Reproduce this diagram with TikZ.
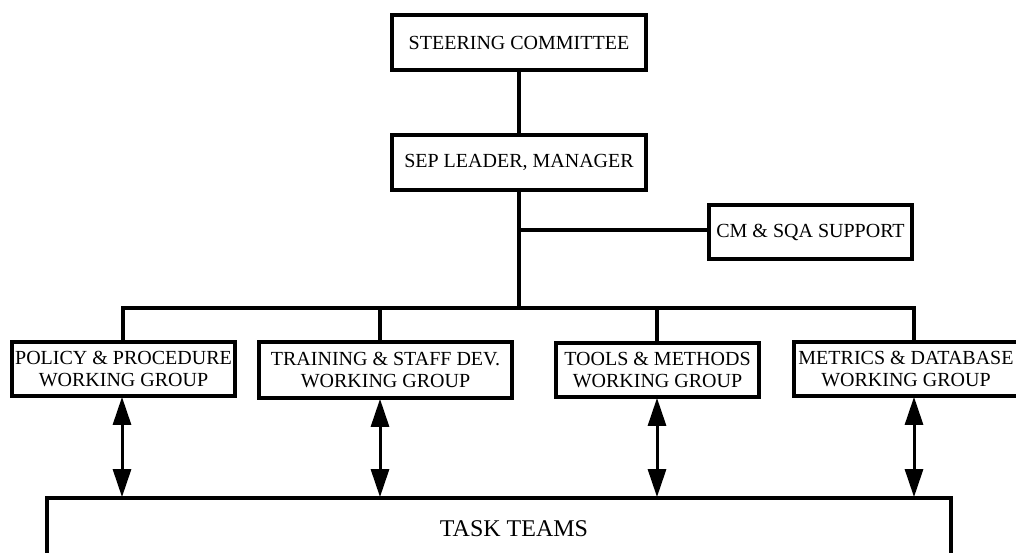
\documentclass[tikz,border=0pt]{standalone}
\usepackage{fontspec}
\setmainfont{Liberation Serif}
\usetikzlibrary{arrows.meta}
\tikzset{
  box/.style={draw, line width=3.8pt, rectangle, inner sep=0pt, align=center,
              font=\fontsize{20}{22}\selectfont},
  link/.style={line width=3.8pt},
  twoway/.style={line width=3pt, {Triangle[length=28pt,width=18pt]}-{Triangle[length=28pt,width=18pt]}, shorten <=-1pt, shorten >=-1pt},
}
\begin{document}
\begin{tikzpicture}[x=1pt,y=-1pt]
  \useasboundingbox (0,0) rectangle (1016,553);
  \clip (0,0) rectangle (1016,553);

  % top of the hierarchy
  \node[box, minimum width=254pt, minimum height=55pt] (steer) at (519,42.5) {STEERING COMMITTEE};
  \node[box, minimum width=254pt, minimum height=55pt] (sep) at (519,162.5) {SEP LEADER, MANAGER};
  \node[box, minimum width=203pt, minimum height=54pt] (cm) at (810.5,232) {CM \& SQA SUPPORT};

  % working groups
  \node[box, minimum width=223pt, minimum height=54pt] (policy) at (123.5,369) {POLICY \& PROCEDURE\\WORKING GROUP};
  \node[box, minimum width=253pt, minimum height=56pt] (training) at (385.5,370) {TRAINING \& STAFF DEV.\\WORKING GROUP};
  \node[box, minimum width=203pt, minimum height=54pt] (tools) at (657.5,370) {TOOLS \& METHODS\\WORKING GROUP};
  \node[box, minimum width=224pt, minimum height=54pt] (metrics) at (906,369) {METRICS \& DATABASE\\WORKING GROUP};

  % task teams (runs past the lower edge)
  \node[box, minimum width=904pt, minimum height=76pt] (task) at (499,536) {};
  \node[font=\fontsize{24}{26}\selectfont] (tasklabel) at (514,529) {TASK TEAMS};

  % bus and branch points
  \coordinate (trunkjoin) at (519,308);
  \coordinate (cmjoin) at (519,230);
  \coordinate (bP) at (123,308);
  \coordinate (bT) at (380,308);
  \coordinate (bM) at (657,308);
  \coordinate (bD) at (914,308);

  \draw[link] (steer.south) -- (sep.north);
  \draw[link] (sep.south) -- (trunkjoin);
  \draw[link] (cmjoin) -- (cmjoin -| cm.west);
  \draw[link, line join=miter] (bP |- policy.north) -- (bP) -- (bD) -- (bD |- metrics.north);
  \draw[link] (bT) -- (bT |- training.north);
  \draw[link] (bM) -- (bM |- tools.north);

  % two-way links between groups and task teams
  \draw[twoway] (122,0 |- policy.south) -- (122,0 |- task.north);
  \draw[twoway] (380,0 |- training.south) -- (380,0 |- task.north);
  \draw[twoway] (657,0 |- tools.south) -- (657,0 |- task.north);
  \draw[twoway] (914,0 |- metrics.south) -- (914,0 |- task.north);
\end{tikzpicture}
\end{document}
